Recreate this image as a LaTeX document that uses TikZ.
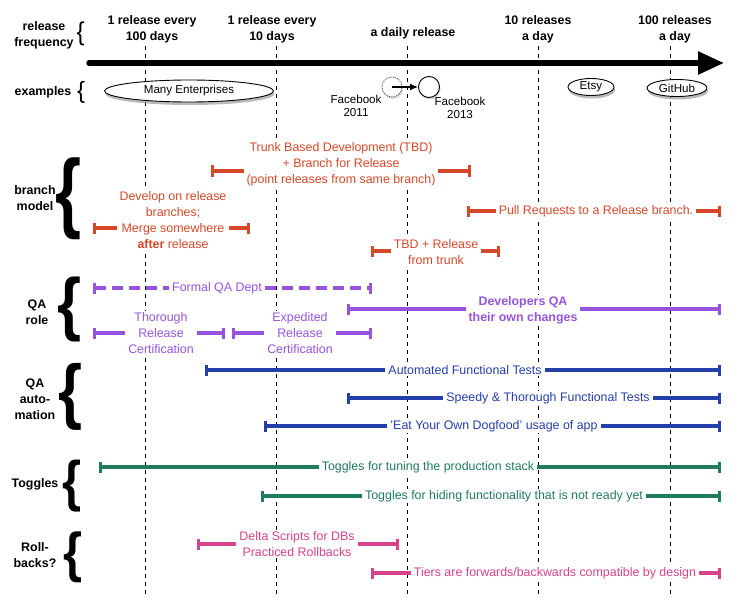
\documentclass[tikz,border=0pt]{standalone}
\usepackage{fontspec}
\setmainfont{Liberation Sans}
\usetikzlibrary{arrows.meta,shadows,shapes.geometric}
\definecolor{cred}{RGB}{214,72,42}
\definecolor{cpurple}{RGB}{150,84,222}
\definecolor{cblue}{RGB}{36,62,170}
\definecolor{cgreen}{RGB}{32,124,92}
\definecolor{cpink}{RGB}{214,66,140}
\newcommand{\bigbr}[2]{\resizebox*{#1}{#2}{\{}}
\newcommand{\bigbrb}[2]{\resizebox*{#1}{#2}{\bfseries\{}}
\begin{document}
\begin{tikzpicture}[x=1pt,y=-1pt,
  hdr/.style={font=\fontsize{12.4}{16}\selectfont\bfseries, align=center, inner sep=0pt},
  cat/.style={font=\fontsize{12.4}{16}\selectfont\bfseries, align=center, inner sep=0pt},
  brc/.style={inner sep=0pt, anchor=center},
  lbl/.style={font=\fontsize{12.4}{16}\selectfont, align=center, fill=white, inner ysep=1.5pt, inner xsep=3pt},
  exl/.style={font=\fontsize{11.6}{13.5}\selectfont, align=center, inner sep=0pt},
  vline/.style={line width=0.8pt, dash pattern=on 4pt off 4pt},
  rng/.style={line width=3.2pt, {Bar[width=11pt]}-{Bar[width=11pt]}},
  ell/.style={ellipse, draw, line width=0.9pt, fill=white, inner sep=0pt,
    font=\fontsize{11.6}{13}\selectfont,
    drop shadow={shadow xshift=1pt, shadow yshift=-3pt, fill=black!45, opacity=0.6}},
]
\useasboundingbox (0,0) rectangle (739,607);
\fill[white] (0,0) rectangle (739,607);

% vertical dashed guides
\foreach \i/\x in {1/145,2/276,3/407,4/538,5/670}{
  \coordinate (vt\i) at (\x,46);
  \coordinate (vb\i) at (\x,596);
  \draw[vline] (vt\i) -- (vb\i);
}

% header
\node[hdr] (h1) at (152,29) {1 release every\\100 days};
\node[hdr] (h2) at (272,29) {1 release every\\10 days};
\node[hdr] (h3) at (413,33) {a daily release};
\node[hdr] (h4) at (538,29) {10 releases\\a day};
\node[hdr] (h5) at (675,29) {100 releases\\a day};
\coordinate (arrL) at (89,63);
\coordinate (arrR) at (724,63);
\draw[line width=5.5pt, line cap=round, -{Triangle[length=26pt,width=22pt]}] (arrL) -- (arrR);

% category labels and braces
\node[cat] (cf) at (44,35) {release\\frequency};
\node[brc] (bf) at (80.5,34) {\bigbr{8pt}{24pt}};
\node[cat] (ce) at (43,92) {examples};
\node[brc] (be) at (81,92.5) {\bigbr{8pt}{22pt}};
\node[cat] (cb) at (35,198) {branch\\model};
\node[brc] (bb) at (69,199) {\bigbrb{26pt}{82pt}};
\node[cat] (cq) at (37,312) {QA\\role};
\node[brc] (bq) at (70,309.5) {\bigbrb{24pt}{65pt}};
\node[cat] (ca) at (35,399) {QA\\auto-\\mation};
\node[brc] (ba) at (71,396.5) {\bigbrb{24pt}{67pt}};
\node[cat] (ct) at (35,484) {Toggles};
\node[brc] (bt) at (72,486) {\bigbrb{19pt}{52pt}};
\node[cat] (ck) at (35,555) {Roll-\\backs?};
\node[brc] (bk) at (73,557.5) {\bigbrb{19pt}{51pt}};

% examples
\node[ell, minimum width=169pt, minimum height=22pt] (me) at (189,91) {Many Enterprises};
\node[circle, draw=black!70, densely dotted, line width=0.9pt, fill=white, minimum size=20pt, inner sep=0pt,
  drop shadow={shadow xshift=1pt, shadow yshift=-2pt, fill=black!30, opacity=0.5}] (fb1) at (392,87) {};
\node[circle, draw, line width=0.9pt, fill=white, minimum size=21pt, inner sep=0pt,
  drop shadow={shadow xshift=1pt, shadow yshift=-2pt, fill=black!30, opacity=0.5}] (fb2) at (429,87) {};
\draw[line width=1.3pt, -{Latex[length=8pt,width=7pt]}] (fb1.center) -- (fb2.west);
\node[exl] (fb1t) at (356,106) {Facebook\\2011};
\node[exl] (fb2t) at (460,108) {Facebook\\2013};
\node[ell, minimum width=46pt, minimum height=17pt] (etsy) at (591,87) {Etsy};
\node[ell, minimum width=60pt, minimum height=17pt] (gh) at (677,88) {GitHub};

% branch model
\begin{scope}[cred]
\coordinate (r1a) at (211,171); \coordinate (r1b) at (471,171);
\draw[rng] (r1a) -- (r1b);
\node[lbl] (r1t) at (341,164.5) {Trunk Based Development (TBD)\\+ Branch for Release\\(point releases from same branch)};
\coordinate (r2a) at (93,228); \coordinate (r2b) at (250,228);
\draw[rng] (r2a) -- (r2b);
\node[lbl] (r2t) at (173,220.5) {Develop on release\\branches;\\Merge somewhere\\{\bfseries after} release};
\coordinate (r3a) at (467,211); \coordinate (r3b) at (721,211);
\draw[rng] (r3a) -- (r3b);
\node[lbl] (r3t) at (596,211) {Pull Requests to a Release branch.};
\coordinate (r4a) at (371,251); \coordinate (r4b) at (500,251);
\draw[rng] (r4a) -- (r4b);
\node[lbl] (r4t) at (436,252) {TBD + Release\\from trunk};
\end{scope}

% QA role
\begin{scope}[cpurple]
\coordinate (p0a) at (93,288); \coordinate (p0b) at (372,288);
\draw[rng, dash pattern=on 11pt off 6pt] (p0a) -- (p0b);
\node[lbl] (p0t) at (217,288) {Formal QA Dept};
\coordinate (p1a) at (347,309); \coordinate (p1b) at (721,309);
\draw[rng] (p1a) -- (p1b);
\node[lbl, font=\fontsize{12.4}{16}\selectfont\bfseries] (p1t) at (523,310) {Developers QA\\their own changes};
\coordinate (p2a) at (93,333); \coordinate (p2b) at (225,333);
\draw[rng] (p2a) -- (p2b);
\node[lbl] (p2t) at (161,333) {Thorough\\Release\\Certification};
\coordinate (p3a) at (232,333); \coordinate (p3b) at (372,333);
\draw[rng] (p3a) -- (p3b);
\node[lbl] (p3t) at (300,333) {Expedited\\Release\\Certification};
\end{scope}

% QA automation
\begin{scope}[cblue]
\coordinate (b1a) at (205,370); \coordinate (b1b) at (721,370);
\draw[rng] (b1a) -- (b1b);
\node[lbl] (b1t) at (465,370) {Automated Functional Tests};
\coordinate (b2a) at (347,398); \coordinate (b2b) at (721,398);
\draw[rng] (b2a) -- (b2b);
\node[lbl] (b2t) at (548,398) {Speedy \& Thorough Functional Tests};
\coordinate (b3a) at (264,426); \coordinate (b3b) at (721,426);
\draw[rng] (b3a) -- (b3b);
\node[lbl] (b3t) at (494,426) {'Eat Your Own Dogfood' usage of app};
\end{scope}

% Toggles
\begin{scope}[cgreen]
\coordinate (g1a) at (99,467); \coordinate (g1b) at (721,467);
\draw[rng] (g1a) -- (g1b);
\node[lbl] (g1t) at (428,467) {Toggles for tuning the production stack};
\coordinate (g2a) at (261,496); \coordinate (g2b) at (721,496);
\draw[rng] (g2a) -- (g2b);
\node[lbl] (g2t) at (504,496) {Toggles for hiding functionality that is not ready yet};
\end{scope}

% Rollbacks
\begin{scope}[cpink]
\coordinate (k1a) at (197,544); \coordinate (k1b) at (399,544);
\draw[rng] (k1a) -- (k1b);
\node[lbl] (k1t) at (297,544) {Delta Scripts for DBs\\Practiced Rollbacks};
\coordinate (k2a) at (371,573); \coordinate (k2b) at (721,573);
\draw[rng] (k2a) -- (k2b);
\node[lbl] (k2t) at (555,573) {Tiers are forwards/backwards compatible by design};
\end{scope}
\end{tikzpicture}
\end{document}
